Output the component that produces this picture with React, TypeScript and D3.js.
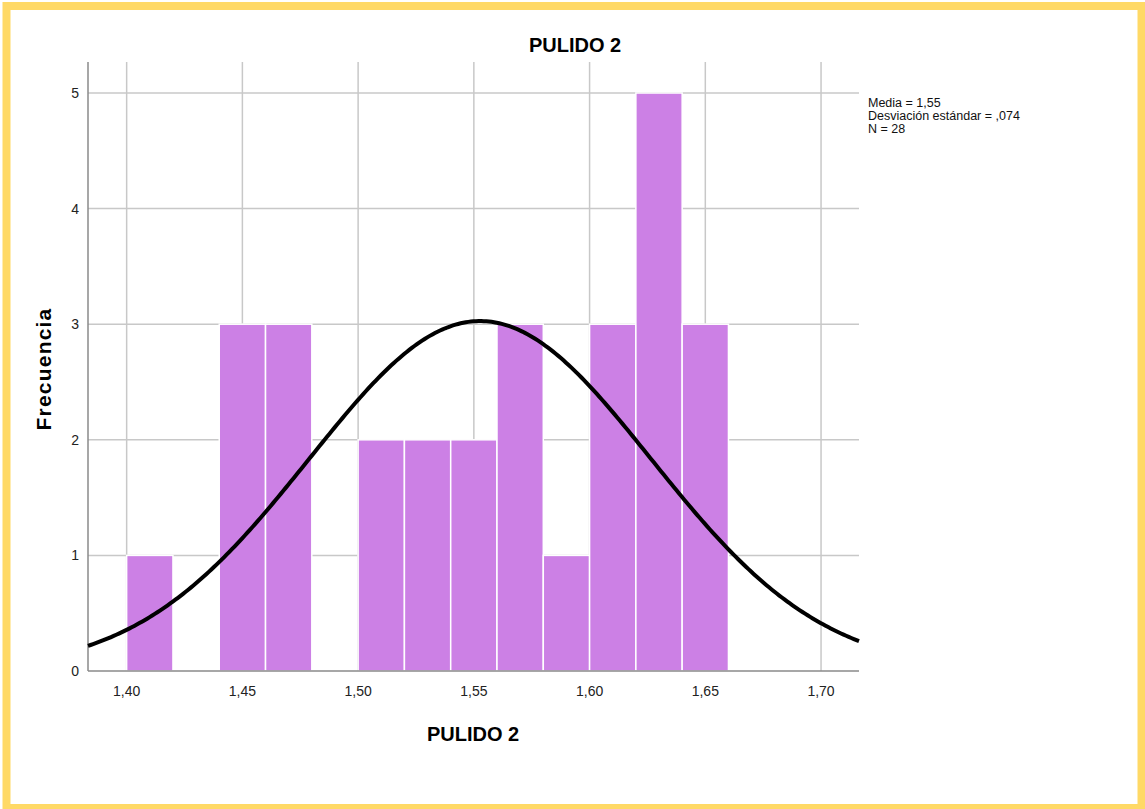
import React from 'react';
import * as d3 from 'd3';

// histogram of PULIDO 2 (bin width 0.02)
const binStarts = [1.40, 1.42, 1.44, 1.46, 1.48, 1.50, 1.52, 1.54, 1.56, 1.58, 1.60, 1.62, 1.64];
const binCounts = [1, 0, 3, 3, 0, 2, 2, 2, 3, 1, 3, 5, 3];
const binWidth = 0.02;
const xTicks = [1.40, 1.45, 1.50, 1.55, 1.60, 1.65, 1.70];
const yTicks = [0, 1, 2, 3, 4, 5];
const stats = { mean: 1.5527, sd: 0.0738, n: 28 };
const legendLines = ['Media = 1,55', 'Desviación estándar = ,074', 'N = 28'];

const W = 1145;
const H = 809;
const font = 'Arial, "Liberation Sans", sans-serif';

export default function App() {
  const x = d3.scaleLinear().domain([1.3833, 1.7164]).range([88, 859]);
  const y = d3.scaleLinear().domain([0, 5]).range([671, 93]);
  const top = 62;

  const fmt = (v: number) => v.toFixed(2).replace('.', ',');

  const norm = (v: number) =>
    (stats.n * binWidth) / (stats.sd * Math.sqrt(2 * Math.PI)) *
    Math.exp(-0.5 * ((v - stats.mean) / stats.sd) ** 2);
  const pts = d3.range(0, 301).map(i => {
    const v = x.domain()[0] + (i / 300) * (x.domain()[1] - x.domain()[0]);
    return [v, norm(v)] as [number, number];
  });
  const line = d3.line<[number, number]>().x(d => x(d[0])).y(d => y(d[1]));

  return (
    <svg width={W} height={H} style={{ position: 'absolute', left: 0, top: 0, background: '#fff' }}>
      <rect x={0} y={0} width={W} height={H} fill="#fff" />
      <rect x={6.5} y={6} width={1135} height={802} fill="none" stroke="#FFD966" strokeWidth={8} />

      <text x={575} y={52} textAnchor="middle" fontFamily={font} fontWeight="bold" fontSize={20}>PULIDO 2</text>

      {/* grid */}
      {xTicks.map(t => (
        <line key={'gx' + t} x1={x(t)} x2={x(t)} y1={top} y2={y(0)} stroke="#c8c8c8" strokeWidth={1.5} />
      ))}
      {yTicks.filter(t => t > 0).map(t => (
        <line key={'gy' + t} x1={x.range()[0]} x2={x.range()[1]} y1={y(t)} y2={y(t)} stroke="#c8c8c8" strokeWidth={1.5} />
      ))}

      {/* bars */}
      {binStarts.map((s, i) => binCounts[i] > 0 && (
        <rect key={'b' + i} x={x(s)} y={y(binCounts[i])} width={x(s + binWidth) - x(s)} height={y(0) - y(binCounts[i])}
          fill="#CC80E5" stroke="#fff" strokeWidth={1.5} />
      ))}

      {/* axes */}
      <line x1={x.range()[0]} x2={x.range()[0]} y1={top} y2={y(0)} stroke="#8a8a8a" strokeWidth={1.5} />
      <line x1={x.range()[0]} x2={x.range()[1]} y1={y(0)} y2={y(0)} stroke="#8a8a8a" strokeWidth={1.5} />

      {/* normal curve */}
      <path d={line(pts) || ''} fill="none" stroke="#000" strokeWidth={4} />

      {yTicks.map(t => (
        <text key={'yt' + t} x={79} y={y(t) + 5} textAnchor="end" fontFamily={font} fontSize={14} fill="#222">{t}</text>
      ))}
      {xTicks.map(t => (
        <text key={'xt' + t} x={x(t)} y={696} textAnchor="middle" fontFamily={font} fontSize={14} fill="#222">{fmt(t)}</text>
      ))}

      <text x={473} y={741} textAnchor="middle" fontFamily={font} fontWeight="bold" fontSize={20}>PULIDO 2</text>
      <text transform="translate(51,369) rotate(-90)" textAnchor="middle" fontFamily={font} fontWeight="bold" fontSize={21} letterSpacing={1.2}>Frecuencia</text>

      {legendLines.map((l, i) => (
        <text key={'lg' + i} x={868} y={107 + i * 13} fontFamily={font} fontSize={12.5} fill="#111">{l}</text>
      ))}
    </svg>
  );
}
